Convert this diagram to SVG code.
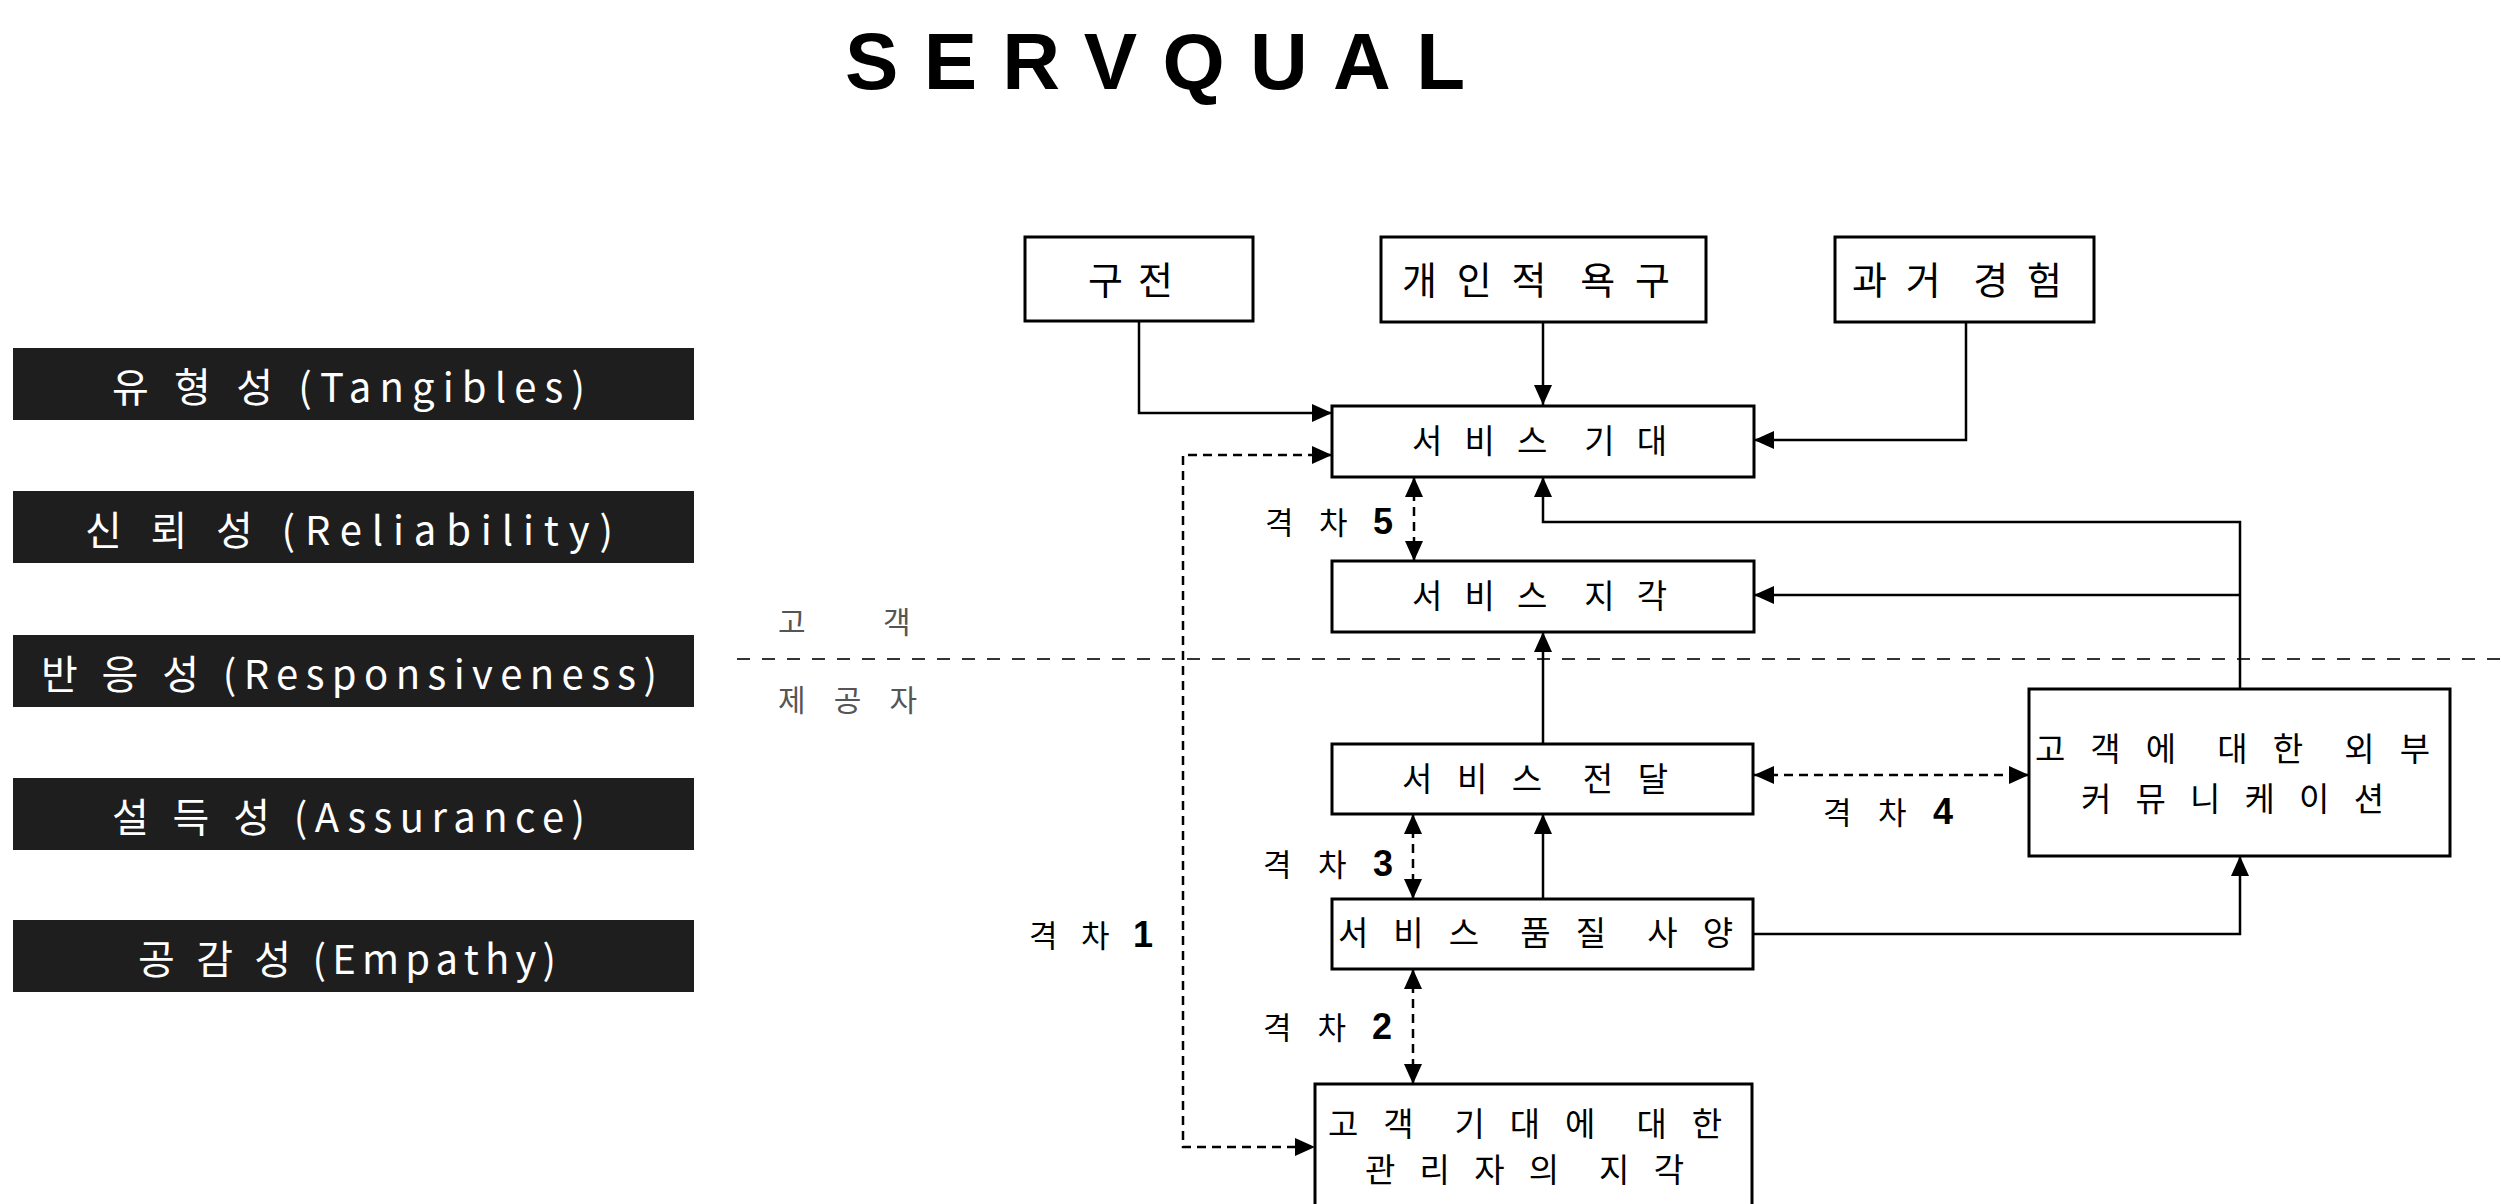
<svg xmlns="http://www.w3.org/2000/svg" width="2501" height="1204" viewBox="0 0 2501 1204">
<style>
.box{fill:#fff;stroke:#000;stroke-width:3}
.dim{fill:#1e1e1e}
.kt{font-family:"Noto Sans CJK KR","Noto Sans",sans-serif;fill:#000;white-space:pre}
.wt{fill:#fff;font-size:40px}
.t38{font-size:38px}
.t32{font-size:33px}
.lab{font-size:31px}
.side{font-size:30px;fill:#555}
.num{font-family:"Liberation Sans",Arial,sans-serif;font-weight:bold;font-size:36px}
.conn{fill:none;stroke:#000;stroke-width:2.5}
.gap{stroke-dasharray:9 6}
.sep{fill:none;stroke:#333;stroke-width:2;stroke-dasharray:13 12}
</style>
<defs>
<marker id="ah" markerUnits="userSpaceOnUse" markerWidth="20" markerHeight="18" refX="20" refY="9" orient="auto-start-reverse">
<path d="M0,0 L20,9 L0,18 z" fill="#000"/>
</marker>
</defs>

<text x="845" y="89" font-family="Liberation Sans, Arial, sans-serif" font-weight="bold" font-size="80" textLength="620" lengthAdjust="spacing">SERVQUAL</text>

<g id="dim-tangibles"><rect class="dim" x="13" y="348" width="681" height="72"/><text class="kt wt" x="112" y="402" textLength="473" lengthAdjust="spacing">유 형 성 (Tangibles)</text></g>
<g id="dim-reliability"><rect class="dim" x="13" y="491" width="681" height="72"/><text class="kt wt" x="85" y="545" textLength="528" lengthAdjust="spacing">신 뢰 성 (Reliability)</text></g>
<g id="dim-responsiveness"><rect class="dim" x="13" y="635" width="681" height="72"/><text class="kt wt" x="41" y="689" textLength="616" lengthAdjust="spacing">반 응 성 (Responsiveness)</text></g>
<g id="dim-assurance"><rect class="dim" x="13" y="778" width="681" height="72"/><text class="kt wt" x="112" y="832" textLength="473" lengthAdjust="spacing">설 득 성 (Assurance)</text></g>
<g id="dim-empathy"><rect class="dim" x="13" y="920" width="681" height="72"/><text class="kt wt" x="138" y="974" textLength="418" lengthAdjust="spacing">공 감 성 (Empathy)</text></g>

<g id="separator">
<path class="sep" d="M737,659 H2501"/>
<text class="kt side" x="778" y="633">고</text>
<text class="kt side" x="883" y="633">객</text>
<text class="kt side" x="778" y="711" textLength="139" lengthAdjust="spacing">제 공 자</text>
</g>

<g id="connectors">
<path class="conn" d="M1139,321 V413 H1332" marker-end="url(#ah)"/>
<path class="conn" d="M1543,322 V405" marker-end="url(#ah)"/>
<path class="conn" d="M1966,322 V440 H1754" marker-end="url(#ah)"/>
<path class="conn" d="M2240,689 V522 H1543 V477" marker-end="url(#ah)"/>
<path class="conn" d="M2240,595 H1754" marker-end="url(#ah)"/>
<path class="conn" d="M1543,744 V632" marker-end="url(#ah)"/>
<path class="conn" d="M1543,899 V814" marker-end="url(#ah)"/>
<path class="conn" d="M1753,934 H2240 V856" marker-end="url(#ah)"/>
<path class="conn gap" d="M1414,477 V561" marker-start="url(#ah)" marker-end="url(#ah)"/>
<path class="conn gap" d="M1413,814 V899" marker-start="url(#ah)" marker-end="url(#ah)"/>
<path class="conn gap" d="M1413,969 V1084" marker-start="url(#ah)" marker-end="url(#ah)"/>
<path class="conn gap" d="M1754,775 H2029" marker-start="url(#ah)" marker-end="url(#ah)"/>
<path class="conn gap" d="M1332,455 H1183 V1147 H1315" marker-start="url(#ah)" marker-end="url(#ah)"/>
</g>

<g id="wom"><rect class="box" x="1025" y="237" width="228" height="84"/><text class="kt t38" x="1088" y="294" textLength="85" lengthAdjust="spacing">구 전</text></g>
<g id="personal-needs"><rect class="box" x="1381" y="237" width="325" height="85"/><text class="kt t38" x="1402" y="294" textLength="268" lengthAdjust="spacing">개 인 적  욕 구</text></g>
<g id="past-experience"><rect class="box" x="1835" y="237" width="259" height="85"/><text class="kt t38" x="1852" y="294" textLength="210" lengthAdjust="spacing">과 거  경 험</text></g>
<g id="expected-service"><rect class="box" x="1332" y="406" width="422" height="71"/><text class="kt t32" x="1412" y="453" textLength="255" lengthAdjust="spacing">서 비 스  기 대</text></g>
<g id="perceived-service"><rect class="box" x="1332" y="561" width="422" height="71"/><text class="kt t32" x="1412" y="608" textLength="255" lengthAdjust="spacing">서 비 스  지 각</text></g>
<g id="service-delivery"><rect class="box" x="1332" y="744" width="421" height="70"/><text class="kt t32" x="1402" y="791" textLength="266" lengthAdjust="spacing">서 비 스  전 달</text></g>
<g id="service-spec"><rect class="box" x="1332" y="899" width="421" height="70"/><text class="kt t32" x="1338" y="945" textLength="395" lengthAdjust="spacing">서 비 스  품 질  사 양</text></g>
<g id="management-perception"><rect class="box" x="1315" y="1084" width="437" height="140"/>
<text class="kt t32" x="1328" y="1136" textLength="394" lengthAdjust="spacing">고 객  기 대 에  대 한</text>
<text class="kt t32" x="1365" y="1182" textLength="319" lengthAdjust="spacing">관 리 자 의  지 각</text></g>
<g id="external-comm"><rect class="box" x="2029" y="689" width="421" height="167"/>
<text class="kt t32" x="2035" y="761" textLength="395" lengthAdjust="spacing">고 객 에  대 한  외 부</text>
<text class="kt t32" x="2081" y="811" textLength="303" lengthAdjust="spacing">커 뮤 니 케 이 션</text></g>

<g id="gap-labels">
<text class="kt lab" x="1265" y="534" textLength="128" lengthAdjust="spacing">격 차 <tspan class="num">5</tspan></text>
<text class="kt lab" x="1263" y="876" textLength="130" lengthAdjust="spacing">격 차 <tspan class="num">3</tspan></text>
<text class="kt lab" x="1263" y="1039" textLength="129" lengthAdjust="spacing">격 차 <tspan class="num">2</tspan></text>
<text class="kt lab" x="1029" y="947" textLength="124" lengthAdjust="spacing">격 차 <tspan class="num">1</tspan></text>
<text class="kt lab" x="1823" y="824" textLength="130" lengthAdjust="spacing">격 차 <tspan class="num">4</tspan></text>
</g>
</svg>
